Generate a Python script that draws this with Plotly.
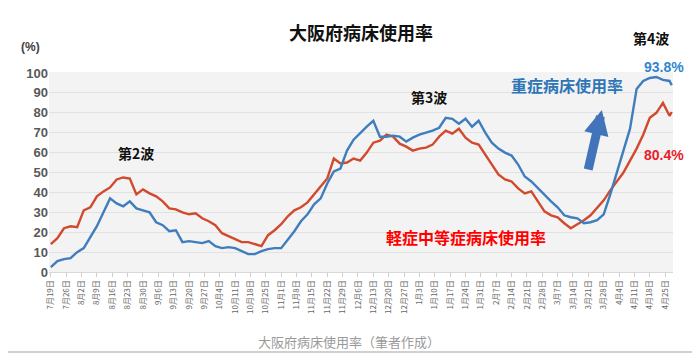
import pandas as pd
import plotly.graph_objects as go

start_date = "2020-07-19"
last_date = "2021-04-28"

severe_rate = [  # 重症病床使用率 (%)
    2.5, 5.5, 6.5, 7, 10, 12, 17.5, 23, 30, 37,
    34.5, 33, 35.5, 32, 31, 30, 25, 23.5, 20.5, 21,
    15, 15.5, 15, 14.5, 15.5, 13, 12, 12.5, 12, 10.5,
    9, 9, 10.5, 11.5, 12, 12, 16, 20.5, 25.5, 29,
    34, 37, 44.5, 50.5, 52, 61, 66.5, 70, 73, 76,
    68, 68, 68.5, 68, 65.5, 67.5, 69, 70, 71, 72.5,
    77.5, 77, 74.5, 77, 73, 76, 70, 65, 62, 60,
    58.5, 54, 48, 45.5, 42, 39, 35.5, 32.5, 28.5, 27.5,
    27, 24.5, 25, 26, 29, 39, 50, 61, 72, 92,
    96, 97.5, 98, 96.5, 96, 93.8,
]

mild_rate = [  # 軽症中等症病床使用率 (%)
    14, 17, 22, 23, 22.5, 31, 32.5, 38, 40.5, 42.5,
    46.5, 47.5, 47, 39, 41.5, 39.5, 38, 35.5, 32, 31.5,
    30, 29, 29.5, 27, 25.5, 23.5, 19.5, 18, 16.5, 15,
    15, 14, 13, 18.5, 21, 24, 28, 31, 32.5, 35,
    39, 43.5, 47, 57, 54.5, 55, 57, 56, 60, 65,
    66, 69, 68, 64.5, 63, 61, 62, 62.5, 64, 68,
    71, 69.5, 72, 67.5, 65, 64, 59, 53.5, 49, 46.5,
    45.5, 42, 39.5, 40.5, 35.5, 30.5, 28.5, 27.5, 24.5, 22,
    24, 26, 28.5, 32.5, 36, 41, 45.5, 50, 56, 62,
    69, 77.5, 80, 85, 78.5, 80.4,
]

tick_labels = [
    "7月19日", "7月26日", "8月2日", "8月9日", "8月16日", "8月23日", "8月30日",
    "9月6日", "9月13日", "9月20日", "9月27日", "10月4日", "10月11日", "10月18日",
    "10月25日", "11月1日", "11月8日", "11月15日", "11月22日", "11月29日", "12月6日",
    "12月13日", "12月20日", "12月27日", "1月3日", "1月10日", "1月17日", "1月24日",
    "1月31日", "2月7日", "2月14日", "2月21日", "2月28日", "3月7日", "3月14日",
    "3月21日", "3月28日", "4月4日", "4月11日", "4月18日", "4月25日",
]
y_ticks = [0, 10, 20, 30, 40, 50, 60, 70, 80, 90, 100]

dates = list(pd.date_range(start_date, periods=len(severe_rate) - 1, freq="3D")) + [pd.Timestamp(last_date)]
tick_dates = list(pd.date_range(start_date, periods=len(tick_labels), freq="7D"))

BLUE_LINE = "#3f7dbd"
RED_LINE = "#d24a2e"
JP = "Noto Sans CJK JP"

fig = go.Figure()
fig.add_trace(go.Scatter(x=dates, y=mild_rate, mode="lines", name="軽症中等症病床使用率",
                         line=dict(color=RED_LINE, width=2.4)))
fig.add_trace(go.Scatter(x=dates, y=severe_rate, mode="lines", name="重症病床使用率",
                         line=dict(color=BLUE_LINE, width=2.4)))

# the page body adds an 8px margin, so the figure is sized/offset to compensate
fig.update_layout(
    width=692, height=348,
    margin=dict(l=41, r=27, t=64, b=84),
    paper_bgcolor="white",
    plot_bgcolor="#f3f3f3",
    showlegend=False,
    font=dict(family=JP, color="#595959"),
    xaxis=dict(
        type="date",
        range=["2020-07-18 04:00", "2021-04-28 14:00"],
        tickmode="array", tickvals=tick_dates, ticktext=tick_labels,
        tickangle=-90, tickfont=dict(size=8, color="#666666", family=JP),
        ticks="outside", ticklen=4, tickcolor="#d0d0d0",
        showgrid=False, showline=True, linecolor="#d9d9d9", linewidth=1,
        zeroline=False,
    ),
    yaxis=dict(
        range=[0, 100.5],
        tickmode="array", tickvals=y_ticks,
        tickfont=dict(size=13, color="#595959", family="Liberation Sans", weight="bold"),
        showgrid=True, gridcolor="#e2e2e2", gridwidth=1,
        zeroline=False, showline=False, ticks="",
    ),
)

def txt(text, x, y, size, color, bold=True, family=JP):
    t = f"<b>{text}</b>" if bold else text
    fig.add_annotation(text=t, x=x, y=y, xref="paper", yref="paper", showarrow=False,
                       xanchor="center", yanchor="middle",
                       font=dict(size=size, color=color, family=family))

txt("大阪府病床使用率", 0.5, 1.2, 18, "#111111")
txt("(%)", -0.029, 1.125, 12, "#404040", family="Liberation Sans")
txt("第2波", 0.139, 0.595, 14, "#111111")
txt("第3波", 0.609, 0.875, 14, "#111111")
txt("第4波", 0.965, 1.17, 14, "#111111")
txt("93.8%", 0.986, 1.025, 14, "#2f86d0", family="Liberation Sans")
txt("重症病床使用率", 0.83, 0.935, 16, "#2e75b6")
txt("80.4%", 0.986, 0.585, 14, "#e8202a", family="Liberation Sans")
txt("軽症中等症病床使用率", 0.668, 0.175, 16, "#ff0000")
txt("大阪府病床使用率（筆者作成）", 0.481, -0.345, 13, "#9a9a9a", bold=False)

# block arrow
fig.add_annotation(x=0.886, y=0.81, xref="paper", yref="paper", text="",
                   showarrow=True, ax=-14, ay=61, arrowhead=2, arrowsize=0.55,
                   arrowwidth=9, arrowcolor="#4174bb")

# bottom border line
fig.add_shape(type="line", xref="paper", yref="paper", x0=-0.08, x1=1.05, y0=-0.4, y1=-0.4,
              line=dict(color="#d0d0d0", width=2))

fig.write_html("out.html")
